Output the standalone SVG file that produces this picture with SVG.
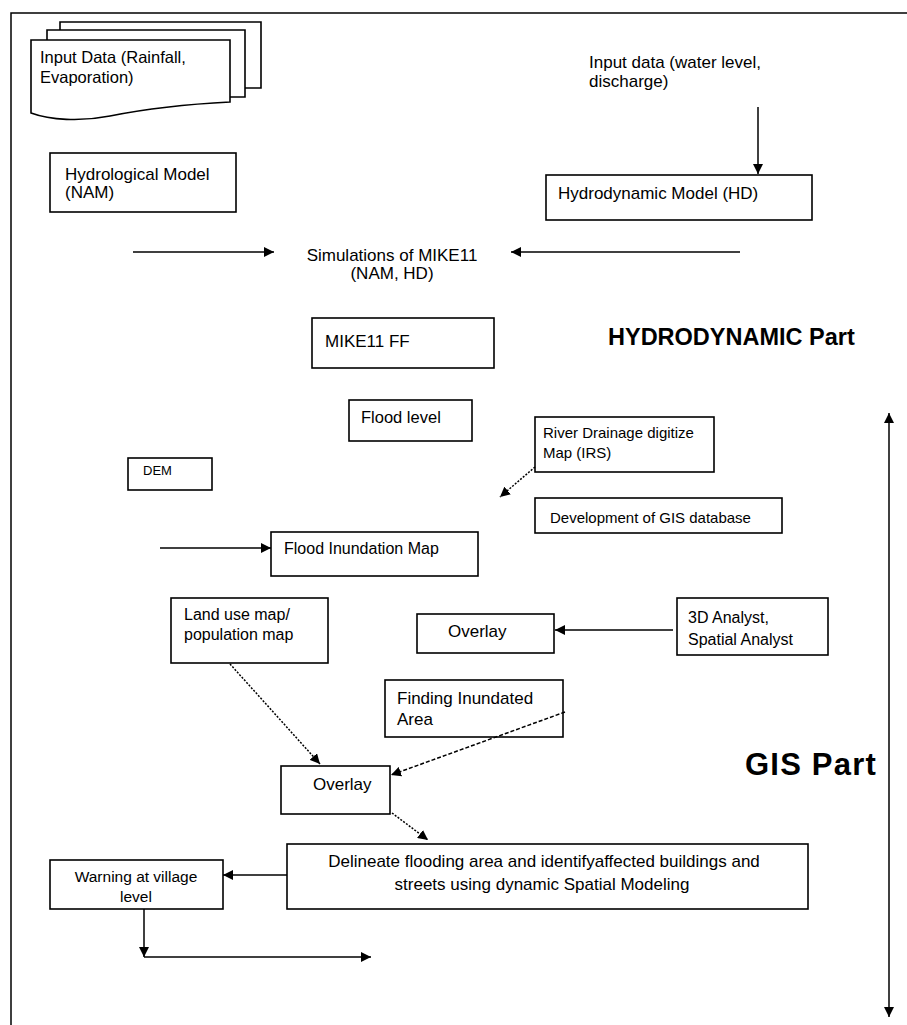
<svg xmlns="http://www.w3.org/2000/svg" width="907" height="1025" viewBox="0 0 907 1025">
<defs>
<style>
.box{fill:#fff;stroke:#000;stroke-width:1.6}
.t{font-family:"Liberation Sans",Arial,sans-serif;fill:#000}
.c{stroke:#000;stroke-width:1.5;fill:none}
.dot{stroke-dasharray:2,1.5}
.dash{stroke-dasharray:4,2}
</style>
<marker id="ah" viewBox="0 0 10 10" refX="10" refY="5" markerWidth="10" markerHeight="10" markerUnits="userSpaceOnUse" orient="auto-start-reverse">
<path d="M0,0 L10,5 L0,10 Z" fill="#000"/>
</marker>
</defs>
<rect width="907" height="1025" fill="#fff"/>
<g id="frame"><path class="c" d="M11,1025 V13 H907" stroke-width="2"/></g>

<g id="input-rain">
<path class="box" d="M60,90 V22 H261 V88 H240"/>
<path class="box" d="M47,99 V30 H245 V97 H225"/>
<path class="box" d="M31,40 H230 V102 C190,104 150,108 110,116 C80,122 50,120 31,113 Z"/>
<text class="t" x="40" y="63" font-size="16.5">Input Data (Rainfall,</text>
<text class="t" x="40" y="83" font-size="16.5">Evaporation)</text>
</g>

<g id="input-water">
<text class="t" x="589" y="68" font-size="17">Input data (water level,</text>
<text class="t" x="589" y="87" font-size="17">discharge)</text>
</g>

<g id="hydrological">
<rect class="box" x="50" y="153" width="186" height="59"/>
<text class="t" x="65" y="180" font-size="17">Hydrological Model</text>
<text class="t" x="65" y="198" font-size="17">(NAM)</text>
</g>

<g id="hydrodynamic">
<rect class="box" x="546" y="175" width="266" height="45"/>
<text class="t" x="558" y="199" font-size="17">Hydrodynamic Model (HD)</text>
</g>

<g id="simulations">
<text class="t" x="392" y="261" font-size="17" text-anchor="middle">Simulations of MIKE11</text>
<text class="t" x="392" y="279" font-size="17" text-anchor="middle">(NAM, HD)</text>
</g>

<g id="mike11ff">
<rect class="box" x="312" y="318" width="182" height="50"/>
<text class="t" x="325" y="347" font-size="17">MIKE11 FF</text>
</g>

<g id="hydro-label">
<text class="t" x="608" y="345" font-size="23.5" font-weight="bold">HYDRODYNAMIC Part</text>
</g>

<g id="flood-level">
<rect class="box" x="349" y="400" width="123" height="41"/>
<text class="t" x="361" y="423" font-size="16.5">Flood level</text>
</g>

<g id="river">
<rect class="box" x="535" y="417" width="179" height="55"/>
<text class="t" x="543" y="438" font-size="15">River Drainage digitize</text>
<text class="t" x="543" y="458" font-size="15">Map (IRS)</text>
</g>

<g id="dem">
<rect class="box" x="128" y="458" width="84" height="32"/>
<text class="t" x="143" y="475" font-size="13">DEM</text>
</g>

<g id="gis-db">
<rect class="box" x="535" y="498" width="247" height="35"/>
<text class="t" x="550" y="523" font-size="15">Development of GIS database</text>
</g>

<g id="flood-inundation">
<rect class="box" x="271" y="532" width="207" height="44"/>
<text class="t" x="284" y="554" font-size="16">Flood Inundation Map</text>
</g>

<g id="landuse">
<rect class="box" x="171" y="598" width="157" height="65"/>
<text class="t" x="184" y="620" font-size="16">Land use map/</text>
<text class="t" x="184" y="640" font-size="16">population map</text>
</g>

<g id="overlay1">
<rect class="box" x="417" y="614" width="137" height="39"/>
<text class="t" x="448" y="637" font-size="17">Overlay</text>
</g>

<g id="analyst">
<rect class="box" x="677" y="598" width="151" height="57"/>
<text class="t" x="688" y="623" font-size="16">3D Analyst,</text>
<text class="t" x="688" y="645" font-size="16">Spatial Analyst</text>
</g>

<g id="finding">
<rect class="box" x="385" y="680" width="178" height="57"/>
<text class="t" x="397" y="704" font-size="17">Finding Inundated</text>
<text class="t" x="397" y="725" font-size="17">Area</text>
</g>

<g id="overlay2">
<rect class="box" x="281" y="766" width="109" height="48"/>
<text class="t" x="313" y="790" font-size="17">Overlay</text>
</g>

<g id="gis-label">
<text class="t" x="745" y="775" font-size="31" font-weight="bold" letter-spacing="1.2">GIS Part</text>
</g>

<g id="delineate">
<rect class="box" x="287" y="844" width="521" height="65"/>
<text class="t" x="544" y="867" font-size="17" text-anchor="middle">Delineate flooding area and identifyaffected buildings and</text>
<text class="t" x="542" y="890" font-size="17" text-anchor="middle">streets using dynamic Spatial Modeling</text>
</g>

<g id="warning">
<rect class="box" x="50" y="860" width="173" height="49"/>
<text class="t" x="136" y="882" font-size="15.5" text-anchor="middle">Warning at village</text>
<text class="t" x="136" y="902" font-size="15.5" text-anchor="middle">level</text>
</g>

<g id="connectors">
<line class="c" x1="758" y1="107" x2="758" y2="174" marker-end="url(#ah)"/>
<line class="c" x1="133" y1="252" x2="274" y2="252" marker-end="url(#ah)"/>
<line class="c" x1="740" y1="252" x2="511" y2="252" marker-end="url(#ah)"/>
<line class="c dot" x1="535" y1="467" x2="500" y2="497" marker-end="url(#ah)"/>
<line class="c" x1="160" y1="548" x2="271" y2="548" marker-end="url(#ah)"/>
<line class="c" x1="673" y1="630" x2="555" y2="630" marker-end="url(#ah)"/>
<line class="c dot" x1="230" y1="664" x2="320" y2="764" marker-end="url(#ah)"/>
<line class="c dash" x1="565" y1="712" x2="391" y2="775" marker-end="url(#ah)"/>
<line class="c dot" x1="392" y1="813" x2="428" y2="840" marker-end="url(#ah)"/>
<line class="c" x1="287" y1="875" x2="223" y2="875" marker-end="url(#ah)"/>
<line class="c" x1="144" y1="909" x2="144" y2="957" marker-end="url(#ah)"/>
<line class="c" x1="144" y1="957" x2="371" y2="957" marker-end="url(#ah)"/>
<line class="c" x1="889" y1="413" x2="889" y2="1017" marker-start="url(#ah)" marker-end="url(#ah)"/>
</g>
</svg>
